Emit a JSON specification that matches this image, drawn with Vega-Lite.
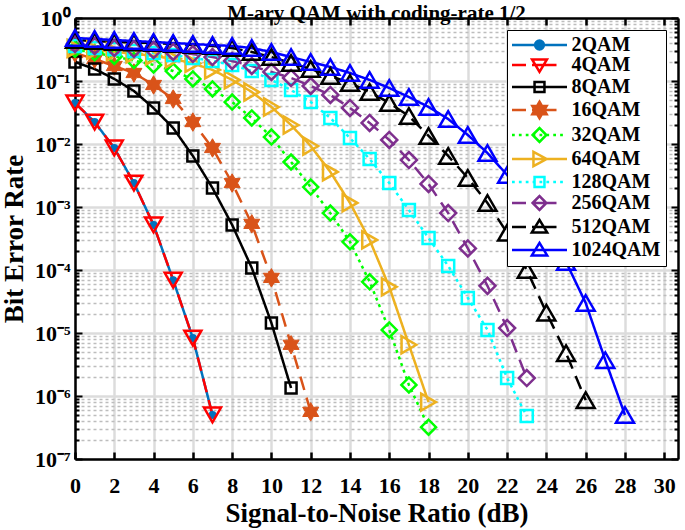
{
  "$schema": "https://vega.github.io/schema/vega-lite/v6.json",
  "width": 603,
  "height": 441,
  "autosize": "none",
  "padding": {"left": 75, "top": 18, "right": 7, "bottom": 71},
  "background": "white",
  "title": {"text": "M-ary QAM with coding-rate 1/2", "font": "Liberation Serif", "fontSize": 21, "fontWeight": "bold", "color": "black", "offset": -17, "anchor": "middle"},
  "config": {"view": {"stroke": null}, "font": "Liberation Serif"},
  "data": {"values": [
    {"s":"2QAM","x":0,"y":0.0448},{"s":"2QAM","x":1,"y":0.0223},{"s":"2QAM","x":2,"y":0.00865},{"s":"2QAM","x":3,"y":0.0024},{"s":"2QAM","x":4,"y":0.00052},{"s":"2QAM","x":5,"y":6.9e-5},{"s":"2QAM","x":6,"y":8.3e-6},{"s":"2QAM","x":7,"y":5e-7},
    {"s":"4QAM","x":0,"y":0.0448},{"s":"4QAM","x":1,"y":0.0223},{"s":"4QAM","x":2,"y":0.00865},{"s":"4QAM","x":3,"y":0.0024},{"s":"4QAM","x":4,"y":0.00052},{"s":"4QAM","x":5,"y":6.9e-5},{"s":"4QAM","x":6,"y":8.3e-6},{"s":"4QAM","x":7,"y":5e-7},
    {"s":"8QAM","x":0,"y":0.2},{"s":"8QAM","x":1,"y":0.155},{"s":"8QAM","x":2,"y":0.108},{"s":"8QAM","x":3,"y":0.0694},{"s":"8QAM","x":4,"y":0.0372},{"s":"8QAM","x":5,"y":0.0179},{"s":"8QAM","x":6,"y":0.00646},{"s":"8QAM","x":7,"y":0.002},{"s":"8QAM","x":8,"y":0.00052},{"s":"8QAM","x":9,"y":0.000108},{"s":"8QAM","x":10,"y":1.44e-5},{"s":"8QAM","x":11,"y":1.34e-6},
    {"s":"16QAM","x":0,"y":0.278},{"s":"16QAM","x":1,"y":0.223},{"s":"16QAM","x":2,"y":0.173},{"s":"16QAM","x":3,"y":0.134},{"s":"16QAM","x":4,"y":0.0865},{"s":"16QAM","x":5,"y":0.0518},{"s":"16QAM","x":6,"y":0.0223},{"s":"16QAM","x":7,"y":0.00865},{"s":"16QAM","x":8,"y":0.0024},{"s":"16QAM","x":9,"y":0.00054},{"s":"16QAM","x":10,"y":7.5e-5},{"s":"16QAM","x":11,"y":6.5e-6},{"s":"16QAM","x":12,"y":5.6e-7},
    {"s":"32QAM","x":0,"y":0.32},{"s":"32QAM","x":1,"y":0.28},{"s":"32QAM","x":2,"y":0.245},{"s":"32QAM","x":3,"y":0.212},{"s":"32QAM","x":4,"y":0.18},{"s":"32QAM","x":5,"y":0.144},{"s":"32QAM","x":6,"y":0.108},{"s":"32QAM","x":7,"y":0.0747},{"s":"32QAM","x":8,"y":0.0464},{"s":"32QAM","x":9,"y":0.0259},{"s":"32QAM","x":10,"y":0.0129},{"s":"32QAM","x":11,"y":0.00518},{"s":"32QAM","x":12,"y":0.00207},{"s":"32QAM","x":13,"y":0.0008},{"s":"32QAM","x":14,"y":0.00028},{"s":"32QAM","x":15,"y":6.5e-5},{"s":"32QAM","x":16,"y":1.12e-5},{"s":"32QAM","x":17,"y":1.5e-6},{"s":"32QAM","x":18,"y":3.2e-7},
    {"s":"64QAM","x":0,"y":0.33},{"s":"64QAM","x":1,"y":0.31},{"s":"64QAM","x":2,"y":0.29},{"s":"64QAM","x":3,"y":0.27},{"s":"64QAM","x":4,"y":0.25},{"s":"64QAM","x":5,"y":0.225},{"s":"64QAM","x":6,"y":0.19},{"s":"64QAM","x":7,"y":0.15},{"s":"64QAM","x":8,"y":0.104},{"s":"64QAM","x":9,"y":0.0669},{"s":"64QAM","x":10,"y":0.0387},{"s":"64QAM","x":11,"y":0.02},{"s":"64QAM","x":12,"y":0.00929},{"s":"64QAM","x":13,"y":0.0036},{"s":"64QAM","x":14,"y":0.00116},{"s":"64QAM","x":15,"y":0.0003},{"s":"64QAM","x":16,"y":5.4e-5},{"s":"64QAM","x":17,"y":6.5e-6},{"s":"64QAM","x":18,"y":8e-7},
    {"s":"128QAM","x":0,"y":0.36},{"s":"128QAM","x":1,"y":0.334},{"s":"128QAM","x":2,"y":0.322},{"s":"128QAM","x":3,"y":0.299},{"s":"128QAM","x":4,"y":0.278},{"s":"128QAM","x":5,"y":0.259},{"s":"128QAM","x":6,"y":0.232},{"s":"128QAM","x":7,"y":0.208},{"s":"128QAM","x":8,"y":0.18},{"s":"128QAM","x":9,"y":0.144},{"s":"128QAM","x":10,"y":0.104},{"s":"128QAM","x":11,"y":0.072},{"s":"128QAM","x":12,"y":0.0464},{"s":"128QAM","x":13,"y":0.0259},{"s":"128QAM","x":14,"y":0.0124},{"s":"128QAM","x":15,"y":0.00578},{"s":"128QAM","x":16,"y":0.0024},{"s":"128QAM","x":17,"y":0.000896},{"s":"128QAM","x":18,"y":0.000322},{"s":"128QAM","x":19,"y":0.000116},{"s":"128QAM","x":20,"y":3.6e-5},{"s":"128QAM","x":21,"y":1.12e-5},{"s":"128QAM","x":22,"y":1.93e-6},{"s":"128QAM","x":23,"y":4.8e-7},
    {"s":"256QAM","x":0,"y":0.387},{"s":"256QAM","x":1,"y":0.36},{"s":"256QAM","x":2,"y":0.334},{"s":"256QAM","x":3,"y":0.322},{"s":"256QAM","x":4,"y":0.31},{"s":"256QAM","x":5,"y":0.289},{"s":"256QAM","x":6,"y":0.268},{"s":"256QAM","x":7,"y":0.24},{"s":"256QAM","x":8,"y":0.208},{"s":"256QAM","x":9,"y":0.173},{"s":"256QAM","x":10,"y":0.139},{"s":"256QAM","x":11,"y":0.112},{"s":"256QAM","x":12,"y":0.0833},{"s":"256QAM","x":13,"y":0.06},{"s":"256QAM","x":14,"y":0.0373},{"s":"256QAM","x":15,"y":0.0216},{"s":"256QAM","x":16,"y":0.0116},{"s":"256QAM","x":17,"y":0.00557},{"s":"256QAM","x":18,"y":0.00232},{"s":"256QAM","x":19,"y":0.0008},{"s":"256QAM","x":20,"y":0.00022},{"s":"256QAM","x":21,"y":5.6e-5},{"s":"256QAM","x":22,"y":1.2e-5},{"s":"256QAM","x":23,"y":1.93e-6},
    {"s":"512QAM","x":0,"y":0.448},{"s":"512QAM","x":1,"y":0.431},{"s":"512QAM","x":2,"y":0.416},{"s":"512QAM","x":3,"y":0.408},{"s":"512QAM","x":4,"y":0.401},{"s":"512QAM","x":5,"y":0.386},{"s":"512QAM","x":6,"y":0.373},{"s":"512QAM","x":7,"y":0.36},{"s":"512QAM","x":8,"y":0.334},{"s":"512QAM","x":9,"y":0.289},{"s":"512QAM","x":10,"y":0.24},{"s":"512QAM","x":11,"y":0.193},{"s":"512QAM","x":12,"y":0.155},{"s":"512QAM","x":13,"y":0.12},{"s":"512QAM","x":14,"y":0.0929},{"s":"512QAM","x":15,"y":0.0669},{"s":"512QAM","x":16,"y":0.0448},{"s":"512QAM","x":17,"y":0.0278},{"s":"512QAM","x":18,"y":0.0134},{"s":"512QAM","x":19,"y":0.00646},{"s":"512QAM","x":20,"y":0.00289},{"s":"512QAM","x":21,"y":0.00116},{"s":"512QAM","x":22,"y":0.00039},{"s":"512QAM","x":23,"y":0.0001},{"s":"512QAM","x":24,"y":2.1e-5},{"s":"512QAM","x":25,"y":4.8e-6},{"s":"512QAM","x":26,"y":8.6e-7},
    {"s":"1024QAM","x":0,"y":0.482},{"s":"1024QAM","x":1,"y":0.464},{"s":"1024QAM","x":2,"y":0.448},{"s":"1024QAM","x":3,"y":0.431},{"s":"1024QAM","x":4,"y":0.416},{"s":"1024QAM","x":5,"y":0.401},{"s":"1024QAM","x":6,"y":0.386},{"s":"1024QAM","x":7,"y":0.372},{"s":"1024QAM","x":8,"y":0.36},{"s":"1024QAM","x":9,"y":0.334},{"s":"1024QAM","x":10,"y":0.289},{"s":"1024QAM","x":11,"y":0.24},{"s":"1024QAM","x":12,"y":0.2},{"s":"1024QAM","x":13,"y":0.167},{"s":"1024QAM","x":14,"y":0.134},{"s":"1024QAM","x":15,"y":0.104},{"s":"1024QAM","x":16,"y":0.0774},{"s":"1024QAM","x":17,"y":0.0557},{"s":"1024QAM","x":18,"y":0.0387},{"s":"1024QAM","x":19,"y":0.0249},{"s":"1024QAM","x":20,"y":0.0139},{"s":"1024QAM","x":21,"y":0.00719},{"s":"1024QAM","x":22,"y":0.00322},{"s":"1024QAM","x":23,"y":0.00129},{"s":"1024QAM","x":24,"y":0.00045},{"s":"1024QAM","x":25,"y":0.000134},{"s":"1024QAM","x":26,"y":3e-5},{"s":"1024QAM","x":27,"y":3.7e-6},{"s":"1024QAM","x":28,"y":5e-7}
  ]},
  "layer": [
    {
      "mark": {"type": "line", "strokeWidth": 2.5, "clip": true},
      "encoding": {
        "x": {"field": "x", "type": "quantitative", "scale": {"domain": [0, 30.7], "nice": false, "zero": false},
          "axis": {"orient": "bottom", "values": [0,2,4,6,8,10,12,14,16,18,20,22,24,26,28,30], "title": "Signal-to-Noise Ratio (dB)",
            "grid": true, "gridColor": "#dcdcdc", "gridWidth": 2.5,
            "domain": true, "domainColor": "black", "domainWidth": 2.5,
            "ticks": true, "tickSize": -7, "tickColor": "black", "tickWidth": 2.5,
            "labelPadding": 23, "labelFont": "Liberation Serif", "labelFontSize": 22, "labelFontWeight": "bold", "labelColor": "black", "labelFlush": false, "labelOverlap": false,
            "titleFont": "Liberation Serif", "titleFontSize": 27, "titleFontWeight": "bold", "titleColor": "black", "titlePadding": 4}},
        "y": {"field": "y", "type": "quantitative", "scale": {"type": "log", "domain": [1e-7, 1], "nice": false},
          "axis": {"orient": "left", "title": "Bit Error Rate",
            "values": [1e-7,2e-7,3e-7,4e-7,5e-7,6e-7,7e-7,8e-7,9e-7,1e-6,2e-6,3e-6,4e-6,5e-6,6e-6,7e-6,8e-6,9e-6,1e-5,2e-5,3e-5,4e-5,5e-5,6e-5,7e-5,8e-5,9e-5,1e-4,2e-4,3e-4,4e-4,5e-4,6e-4,7e-4,8e-4,9e-4,0.001,0.002,0.003,0.004,0.005,0.006,0.007,0.008,0.009,0.01,0.02,0.03,0.04,0.05,0.06,0.07,0.08,0.09,0.1,0.2,0.3,0.4,0.5,0.6,0.7,0.8,0.9,1],
            "labelExpr": "abs(log(datum.value)/LN10-round(log(datum.value)/LN10))<0.001 ? '10'+['⁰','⁻¹','⁻²','⁻³','⁻⁴','⁻⁵','⁻⁶','⁻⁷'][-round(log(datum.value)/LN10)] : ''",
            "grid": true,
            "gridColor": {"condition": {"test": "abs(log(datum.value)/LN10-round(log(datum.value)/LN10))<0.001", "value": "#dcdcdc"}, "value": "#bdbdbd"},
            "gridDash": {"condition": {"test": "abs(log(datum.value)/LN10-round(log(datum.value)/LN10))<0.001", "value": []}, "value": [3, 3]},
            "gridWidth": {"condition": {"test": "abs(log(datum.value)/LN10-round(log(datum.value)/LN10))<0.001", "value": 2.5}, "value": 1.6},
            "tickSize": {"condition": {"test": "abs(log(datum.value)/LN10-round(log(datum.value)/LN10))<0.001", "value": -7}, "value": -4},
            "tickColor": "black", "tickWidth": 2,
            "domain": true, "domainColor": "black", "domainWidth": 2.5,
            "labelPadding": 12, "labelFont": "Liberation Serif", "labelFontSize": 22, "labelFontWeight": "bold", "labelColor": "black", "labelOverlap": false, "labelBound": false,
            "titleFont": "Liberation Serif", "titleFontSize": 27, "titleFontWeight": "bold", "titleColor": "black", "titlePadding": 6}},
        "stroke": {"field": "s", "type": "nominal",
          "scale": {"domain": ["2QAM","4QAM","8QAM","16QAM","32QAM","64QAM","128QAM","256QAM","512QAM","1024QAM"],
                    "range": ["#0072BD","#FF0000","#000000","#D95319","#00FF00","#EDB120","#00FFFF","#7E2F8E","#000000","#0000FF"]},
          "legend": null},
        "strokeDash": {"field": "s", "type": "nominal",
          "scale": {"domain": ["2QAM","4QAM","8QAM","16QAM","32QAM","64QAM","128QAM","256QAM","512QAM","1024QAM"],
                    "range": [[1,0],[14,8],[1,0],[14,8],[3,4],[1,0],[3,4],[14,8],[14,8],[1,0]]},
          "legend": null},
        "order": {"field": "x", "type": "quantitative"}
      }
    },
    {
      "transform": [{"filter": "datum.s == '2QAM'"}],
      "mark": {"type": "point", "shape": "circle", "filled": true, "color": "#0072BD", "opacity": 1, "size": 64},
      "encoding": {
        "x": {"field": "x", "type": "quantitative", "axis": null},
        "y": {"field": "y", "type": "quantitative", "axis": null}
      }
    },
    {
      "transform": [{"filter": "datum.s == '16QAM'"}],
      "mark": {"type": "point", "shape": "M0,-1L0.289,-0.5L0.866,-0.5L0.577,0L0.866,0.5L0.289,0.5L0,1L-0.289,0.5L-0.866,0.5L-0.577,0L-0.866,-0.5L-0.289,-0.5Z", "filled": true, "fill": "#D95319", "stroke": "#D95319", "strokeWidth": 1, "opacity": 1, "size": 342},
      "encoding": {
        "x": {"field": "x", "type": "quantitative", "axis": null},
        "y": {"field": "y", "type": "quantitative", "axis": null}
      }
    },
    {
      "transform": [{"filter": "datum.s != '2QAM' && datum.s != '16QAM'"}],
      "mark": {"type": "point", "filled": false, "opacity": 1, "strokeWidth": 2.5},
      "encoding": {
        "x": {"field": "x", "type": "quantitative", "axis": null},
        "y": {"field": "y", "type": "quantitative", "axis": null},
        "stroke": {"field": "s", "type": "nominal",
          "scale": {"domain": ["2QAM","4QAM","8QAM","16QAM","32QAM","64QAM","128QAM","256QAM","512QAM","1024QAM"],
                    "range": ["#0072BD","#FF0000","#000000","#D95319","#00FF00","#EDB120","#00FFFF","#7E2F8E","#000000","#0000FF"]},
          "legend": null},
        "shape": {"field": "s", "type": "nominal",
          "scale": {"domain": ["4QAM","8QAM","32QAM","64QAM","128QAM","256QAM","512QAM","1024QAM"],
                    "range": ["triangle-down","square","diamond","triangle-right","square","diamond","triangle-up","triangle-up"]},
          "legend": null},
        "size": {"field": "s", "type": "nominal",
          "scale": {"type": "ordinal", "domain": ["4QAM","8QAM","32QAM","64QAM","128QAM","256QAM","512QAM","1024QAM"],
                    "range": [289, 121, 225, 289, 144, 256, 324, 324]},
          "legend": null}
      }
    },
    {
      "transform": [{"filter": "false"}],
      "mark": {"type": "point", "filled": false, "opacity": 1, "strokeWidth": 2.5, "size": 100},
      "encoding": {
        "x": {"field": "x", "type": "quantitative",
          "axis": {"orient": "top", "values": [0,2,4,6,8,10,12,14,16,18,20,22,24,26,28,30], "labels": false, "grid": false, "title": null,
            "domain": true, "domainColor": "black", "domainWidth": 2.5, "ticks": true, "tickSize": -7, "tickColor": "black", "tickWidth": 2.5}},
        "y": {"field": "y", "type": "quantitative",
          "axis": {"orient": "right", "labels": false, "grid": false, "title": null,
            "values": [1e-7,2e-7,3e-7,4e-7,5e-7,6e-7,7e-7,8e-7,9e-7,1e-6,2e-6,3e-6,4e-6,5e-6,6e-6,7e-6,8e-6,9e-6,1e-5,2e-5,3e-5,4e-5,5e-5,6e-5,7e-5,8e-5,9e-5,1e-4,2e-4,3e-4,4e-4,5e-4,6e-4,7e-4,8e-4,9e-4,0.001,0.002,0.003,0.004,0.005,0.006,0.007,0.008,0.009,0.01,0.02,0.03,0.04,0.05,0.06,0.07,0.08,0.09,0.1,0.2,0.3,0.4,0.5,0.6,0.7,0.8,0.9,1],
            "tickSize": {"condition": {"test": "abs(log(datum.value)/LN10-round(log(datum.value)/LN10))<0.001", "value": -7}, "value": -4},
            "domain": true, "domainColor": "black", "domainWidth": 2.5, "ticks": true, "tickColor": "black", "tickWidth": 2}},
        "stroke": {"field": "s", "type": "nominal",
          "scale": {"domain": ["2QAM","4QAM","8QAM","16QAM","32QAM","64QAM","128QAM","256QAM","512QAM","1024QAM"],
                    "range": ["#0072BD","#FF0000","#000000","#D95319","#00FF00","#EDB120","#00FFFF","#7E2F8E","#000000","#0000FF"]},
          "legend": {"orient": "none", "legendX": 432, "legendY": 12, "title": null, "padding": 5, "rowPadding": -1,
            "symbolSize": 100, "symbolStrokeWidth": 2.5, "symbolOffset": 17.5, "labelOffset": 22,
            "labelFont": "Liberation Serif", "labelFontSize": 20, "labelFontWeight": "bold", "labelColor": "black", "labelLimit": 0,
            "fillColor": "white", "strokeColor": "black", "zindex": 1}},
        "shape": {"field": "s", "type": "nominal",
          "scale": {"domain": ["2QAM","4QAM","8QAM","16QAM","32QAM","64QAM","128QAM","256QAM","512QAM","1024QAM"],
                    "range": [
                      "M-5.5,0H5.5M-0.88,0A0.88,0.88 0 1,0 0.88,0A0.88,0.88 0 1,0 -0.88,0ZM-0.5,0A0.5,0.5 0 1,0 0.5,0A0.5,0.5 0 1,0 -0.5,0ZM-0.17,0H0.17",
                      "M-5.5,0H-2.7M-1.5,0H3.4M-1.485,-1.1L1.485,-1.1L0,1.375Z",
                      "M-5.5,0H5.5M-0.99,-0.99H0.99V0.99H-0.99Z",
                      "M-5.5,0H-2.7M-1.5,0H3.4M0,-1.65L0.478,-0.825L1.43,-0.825L0.952,0L1.43,0.825L0.478,0.825L0,1.65L-0.478,0.825L-1.43,0.825L-0.952,0L-1.43,-0.825L-0.478,-0.825ZM0,-1.1L0.319,-0.55L0.953,-0.55L0.635,0L0.953,0.55L0.319,0.55L0,1.1L-0.319,0.55L-0.953,0.55L-0.635,0L-0.953,-0.55L-0.319,-0.55ZM0,-0.55L0.159,-0.275L0.476,-0.275L0.317,0L0.476,0.275L0.159,0.275L0,0.55L-0.159,0.275L-0.476,0.275L-0.317,0L-0.476,-0.275L-0.159,-0.275Z",
                      "M-5.5,0H-4.95M-4.125,0H-3.575M-2.75,0H-2.2M-1.375,0H-0.825M0,0H0.55M1.375,0H1.925M2.75,0H3.3M4.125,0H4.675M-1.375,0L0,-1.375L1.375,0L0,1.375Z",
                      "M-5.5,0H5.5M-1.21,-1.43L1.43,0L-1.21,1.43Z",
                      "M-5.5,0H-4.95M-4.125,0H-3.575M-2.75,0H-2.2M-1.375,0H-0.825M0,0H0.55M1.375,0H1.925M2.75,0H3.3M4.125,0H4.675M-0.99,-0.99H0.99V0.99H-0.99Z",
                      "M-5.5,0H-2.7M-1.5,0H3.4M-1.375,0L0,-1.375L1.375,0L0,1.375Z",
                      "M-5.5,0H-2.7M-1.5,0H3.4M0,-1.43L1.54,1.1L-1.54,1.1Z",
                      "M-5.5,0H5.5M0,-1.43L1.54,1.1L-1.54,1.1Z"
                    ]},
          "legend": {"orient": "none", "legendX": 432, "legendY": 12, "title": null, "padding": 5, "rowPadding": -1,
            "symbolSize": 100, "symbolStrokeWidth": 2.5, "symbolOffset": 17.5, "labelOffset": 22,
            "labelFont": "Liberation Serif", "labelFontSize": 20, "labelFontWeight": "bold", "labelColor": "black", "labelLimit": 0,
            "fillColor": "white", "strokeColor": "black", "zindex": 1}}
      }
    }
  ],
  "resolve": {"axis": {"x": "independent", "y": "independent"}, "scale": {"shape": "independent", "stroke": "independent"}}
}
